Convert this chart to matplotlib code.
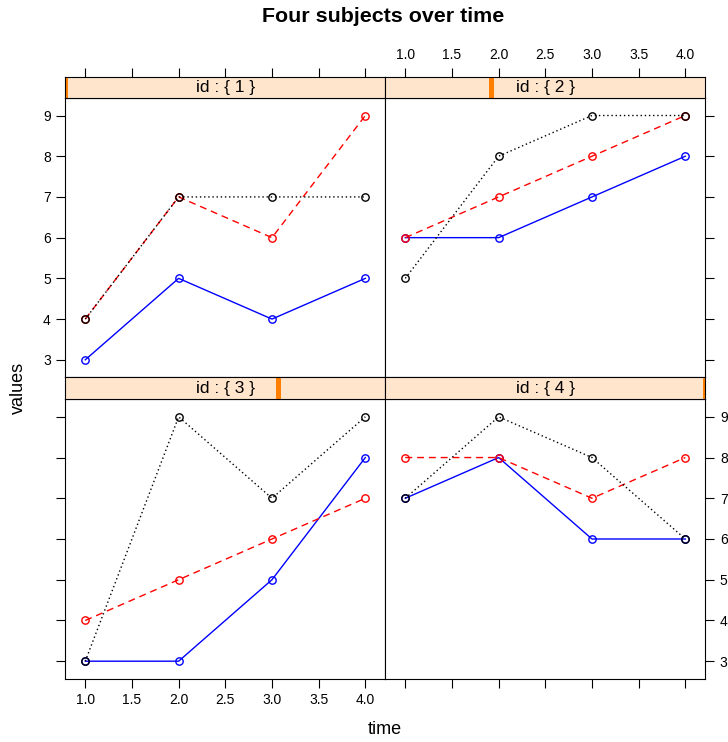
import numpy as np
import matplotlib.pyplot as plt
from matplotlib.patches import Rectangle

plt.rcParams['font.family'] = ['Liberation Sans', 'DejaVu Sans']

# data
time = [1, 2, 3, 4]
subject_ids = [1, 2, 3, 4]
blue_series = [[3, 5, 4, 5], [6, 6, 7, 8], [3, 3, 5, 8], [7, 8, 6, 6]]
red_series = [[4, 7, 6, 9], [6, 7, 8, 9], [4, 5, 6, 7], [8, 8, 7, 8]]
black_series = [[4, 7, 7, 7], [5, 8, 9, 9], [3, 9, 7, 9], [7, 9, 8, 6]]
x_ticks = [1.0, 1.5, 2.0, 2.5, 3.0, 3.5, 4.0]
y_ticks = [3, 4, 5, 6, 7, 8, 9]

W, H = 728, 742
fig = plt.figure(figsize=(W / 100, H / 100), dpi=100)


def rect(x0, y0, x1, y1):
    # pixel box (top-left origin) -> figure fraction
    return [x0 / W, 1 - y1 / H, (x1 - x0) / W, (y1 - y0) / H]


xlim = (0.786, 4.214)
ylim = (2.57, 9.43)
cols = [(65.3, 385.3), (385.3, 705.3)]
rows = [(76.5, 98.0, 377.3), (377.3, 399.3, 678.7)]  # strip top, panel top, panel bottom

tick_kw = dict(direction='out', length=6.5, width=0.8, labelsize=10, pad=4)
mk = dict(marker='o', mfc='none', ms=5.3, mew=1.0)

for k, sid in enumerate(subject_ids):
    r, c = divmod(k, 2)
    x0, x1 = cols[c]
    st, pt, pb = rows[r]

    # panel
    ax = fig.add_axes(rect(x0, pt, x1, pb))
    ax.plot(time, blue_series[k], color='#0000FF', lw=1.0, **mk)
    ax.plot(time, red_series[k], color='#FF0000', lw=1.0, ls=(0, (5, 3.5)), **mk)
    ax.plot(time, black_series[k], color='black', lw=1.0, ls=(0, (1, 2)), **mk)
    ax.set_xlim(xlim)
    ax.set_ylim(ylim)
    ax.set_xticks(x_ticks)
    ax.set_xticklabels([f'{v:.1f}' for v in x_ticks])
    ax.set_yticks(y_ticks)
    for s in ax.spines.values():
        s.set_linewidth(0.8)
    ax.tick_params(**tick_kw)
    ax.tick_params(axis='x', top=False, labeltop=False,
                   bottom=(r == 1), labelbottom=(r == 1 and c == 0))
    ax.tick_params(axis='y', left=(c == 0), labelleft=(c == 0 and r == 0),
                   right=(c == 1), labelright=(c == 1 and r == 1))

    # strip
    sx = fig.add_axes(rect(x0, st, x1, pt))
    sx.set_facecolor('#FFE5CC')
    sx.set_xlim(xlim)
    sx.set_ylim(0, 1)
    sx.set_yticks([])
    for s in sx.spines.values():
        s.set_linewidth(0.8)
    sx.add_patch(Rectangle(((sid - 1) / 3 - 0.0078, 0), 0.0156, 1,
                           transform=sx.transAxes, color='#FF7F00', lw=0,
                           clip_on=True))
    sx.text(0.5, 0.48, f'id : {{ {sid} }}', transform=sx.transAxes,
            ha='center', va='center', fontsize=12.5)
    sx.set_xticks(x_ticks)
    sx.set_xticklabels([f'{v:.1f}' for v in x_ticks])
    sx.tick_params(**tick_kw)
    sx.tick_params(axis='x', bottom=False, labelbottom=False,
                   top=(r == 0), labeltop=(r == 0 and c == 1))

fig.text(383 / W, 1 - 17 / H, 'Four subjects over time', ha='center',
         va='center', fontsize=15.4, fontweight='bold')
fig.text(385 / W, 1 - 730 / H, 'time', ha='center', va='center', fontsize=13)
fig.text(18 / W, 1 - 388 / H, 'values', ha='center', va='center',
         fontsize=13, rotation=90)

fig.savefig('out.png', dpi=100)
